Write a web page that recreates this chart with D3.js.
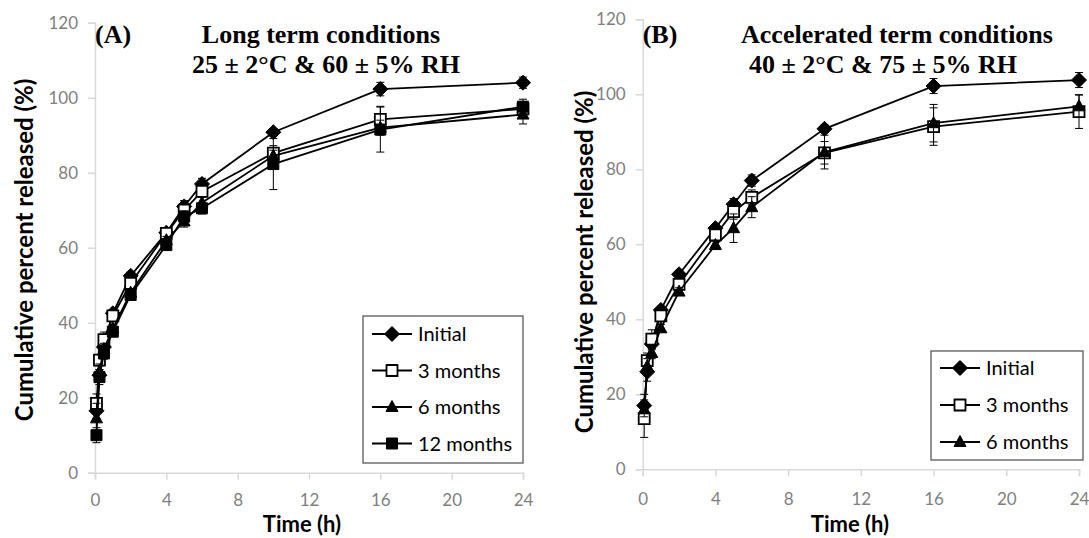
<!DOCTYPE html>
<html>
<head>
<meta charset="utf-8">
<script src="https://cdn.jsdelivr.net/npm/d3@7"></script>
<style>
  body { margin: 0; background: #fff; }
  svg { display: block; }
</style>
</head>
<body>
<svg id="chart" width="1089" height="538"></svg>
<script>
// sampling times (h)
const times = [0.083, 0.25, 0.5, 1, 2, 4, 5, 6, 10, 16, 24];
const xTicks = [0, 4, 8, 12, 16, 20, 24];
const yTicks = [0, 20, 40, 60, 80, 100, 120];

// (A) long term conditions
const initialA = [16.5, 26, 33.5, 42.5, 52.5, 64, 71, 77, 90.8, 102.3, 104];
const threeA   = [18.5, 30, 35.5, 41.8, 50.5, 63.8, 70, 75, 85.2, 94.2, 97];
const sixA     = [14.5, 27, 33, 38.5, 48, 62, 67, 72, 84.5, 92, 95.5];
const twelveA  = [10, 25.5, 31.8, 37.6, 47.4, 60.7, 68.3, 70.5, 82.3, 91.5, 97.6];
const initialErrA = [2, 1.5, 1.5, 1, 1, 1, 1.5, 1.5, 1, 1.8, 1.5];
const threeErrA   = [2.5, 1.5, 2, 1, 1, 1, 2.5, 1.5, 2, 3.5, 2];
const sixErrA     = [4, 2, 1.5, 1, 1, 1, 1.5, 1.5, 1.5, 2, 2.5];
const twelveErrA  = [2, 2, 1.5, 1, 1, 1, 1.5, 1.5, 6.8, 6, 2];

// (B) accelerated term conditions
const initialB = [17, 26, 33.4, 42.5, 52, 64.3, 70.7, 77, 90.8, 102.2, 103.8];
const threeB   = [13.5, 29, 34.7, 40.9, 49.3, 62.5, 68.7, 72.5, 84.4, 91.4, 95.4];
const sixB     = [16, 27.5, 31, 37.6, 47.4, 59.8, 64.3, 69.9, 84.6, 92.3, 96.8];
const initialErrB = [3, 2.5, 1.5, 1, 1, 1, 1.5, 1.5, 1, 2, 2];
const threeErrB   = [5, 2, 2.5, 1, 1, 1, 2, 2, 3, 5, 4.5];
const sixErrB     = [2, 2, 1.5, 1, 1, 1, 3.8, 2.8, 4.5, 5, 3];

const seriesNames = ["Initial", "3 months", "6 months", "12 months"];
const markerTypes = ["diamond", "openSquare", "triangle", "square"];

const svg = d3.select("#chart");
const sans = "Lato, 'Open Sans', sans-serif";
const serif = "'Liberation Serif', 'DejaVu Serif', serif";
const gray = "#d9d9d9";

function markerPath(type) {
  if (type === "diamond") return "M0,-7.5L7.5,0L0,7.5L-7.5,0Z";
  if (type === "triangle") return "M0,-6.5L6,4.5L-6,4.5Z";
  return "M-5.5,-5.5H5.5V5.5H-5.5Z";
}

function drawMarker(g, type, x, y) {
  g.append("path")
    .attr("transform", `translate(${x},${y})`)
    .attr("d", markerPath(type))
    .attr("fill", type === "openSquare" ? "#fff" : "#000")
    .attr("stroke", "#000")
    .attr("stroke-width", type === "openSquare" ? 1.8 : 1);
}

function drawPanel(p) {
  const x = d3.scaleLinear().domain([0, 24]).range([p.x0, p.x1]);
  const y = d3.scaleLinear().domain([0, 120]).range([p.y0, p.y1]);

  // axes
  const ax = svg.append("g").attr("transform", `translate(0,${p.y0})`)
    .call(d3.axisBottom(x).tickValues(xTicks).tickSize(7).tickPadding(p.xPad));
  const ay = svg.append("g").attr("transform", `translate(${p.x0},0)`)
    .call(d3.axisLeft(y).tickValues(yTicks).tickSize(7).tickPadding(10));
  [ax, ay].forEach(a => {
    a.select(".domain").attr("stroke", gray).attr("stroke-width", 1.5);
    a.selectAll(".tick line").attr("stroke", gray).attr("stroke-width", 1.5);
    a.selectAll(".tick text").attr("fill", "#7f7f7f")
      .style("font-family", sans).style("font-size", "17px");
  });

  // series: error bars, lines, markers
  p.series.forEach((vals, i) => {
    const g = svg.append("g");
    const errs = p.errors[i];
    vals.forEach((v, j) => {
      const cx = x(times[j]);
      g.append("line").attr("x1", cx).attr("x2", cx)
        .attr("y1", y(v - errs[j])).attr("y2", y(v + errs[j]))
        .attr("stroke", "#000").attr("stroke-width", 1);
      [v - errs[j], v + errs[j]].forEach(e => {
        g.append("line").attr("x1", cx - 4).attr("x2", cx + 4)
          .attr("y1", y(e)).attr("y2", y(e))
          .attr("stroke", "#000").attr("stroke-width", 1);
      });
    });
    g.append("path")
      .datum(vals)
      .attr("fill", "none").attr("stroke", "#000").attr("stroke-width", 1.8)
      .attr("d", d3.line().x((d, j) => x(times[j])).y(d => y(d)));
    vals.forEach((v, j) => drawMarker(g, markerTypes[i], x(times[j]), y(v)));
  });

  // axis titles
  svg.append("text")
    .attr("x", p.xLabelX).attr("y", 532)
    .attr("text-anchor", "middle")
    .style("font-family", sans).style("font-weight", "bold").style("font-size", "22px")
    .text("Time (h)");
  svg.append("text")
    .attr("transform", `translate(${p.yLabelX},${p.yLabelY}) rotate(-90)`)
    .attr("text-anchor", "middle")
    .style("font-family", sans).style("font-weight", "bold").style("font-size", "24px")
    .text("Cumulative percent released (%)");

  // panel titles
  svg.append("text").attr("x", p.x0).attr("y", 43)
    .style("font-family", serif).style("font-weight", "bold").style("font-size", "26px")
    .text(p.tag);
  svg.append("text").attr("x", p.titleX).attr("y", 43).attr("text-anchor", "middle")
    .style("font-family", serif).style("font-weight", "bold").style("font-size", "26px")
    .text(p.title);
  svg.append("text").attr("x", p.subX).attr("y", 73).attr("text-anchor", "middle")
    .style("font-family", serif).style("font-weight", "bold").style("font-size", "26px")
    .text(p.sub);

  // legend
  const lg = p.legend;
  const n = p.series.length;
  svg.append("rect")
    .attr("x", lg.x).attr("y", lg.y).attr("width", lg.w).attr("height", lg.h)
    .attr("fill", "#fff").attr("stroke", "#595959").attr("stroke-width", 1.3);
  for (let i = 0; i < n; i++) {
    const ly = lg.y + lg.first + i * lg.step;
    const g = svg.append("g");
    g.append("line").attr("x1", lg.x + 9).attr("x2", lg.x + 49)
      .attr("y1", ly).attr("y2", ly).attr("stroke", "#000").attr("stroke-width", 1.8);
    drawMarker(g, markerTypes[i], lg.x + 29, ly);
    g.append("text").attr("x", lg.x + 55).attr("y", ly + 7)
      .style("font-family", sans).style("font-size", "20px").attr("fill", "#000")
      .text(seriesNames[i]);
  }
}

drawPanel({
  x0: 95, x1: 523, y0: 472.7, y1: 22.7, xPad: 14,
  series: [initialA, threeA, sixA, twelveA],
  errors: [initialErrA, threeErrA, sixErrA, twelveErrA],
  xLabelX: 302, yLabelX: 33, yLabelY: 250,
  tag: "(A)", title: "Long term conditions", titleX: 321,
  sub: "25 \u00b1 2\u00b0C & 60 \u00b1 5% RH", subX: 326,
  legend: { x: 363, y: 316, w: 160, h: 147, first: 18, step: 36.5 }
});

drawPanel({
  x0: 642.7, x1: 1079, y0: 469.3, y1: 19.3, xPad: 17,
  series: [initialB, threeB, sixB],
  errors: [initialErrB, threeErrB, sixErrB],
  xLabelX: 850, yLabelX: 593, yLabelY: 262,
  tag: "(B)", title: "Accelerated term conditions", titleX: 897,
  sub: "40 \u00b1 2\u00b0C & 75 \u00b1 5% RH", subX: 883,
  legend: { x: 931, y: 351, w: 152, h: 109, first: 17, step: 37 }
});
</script>
</body>
</html>
